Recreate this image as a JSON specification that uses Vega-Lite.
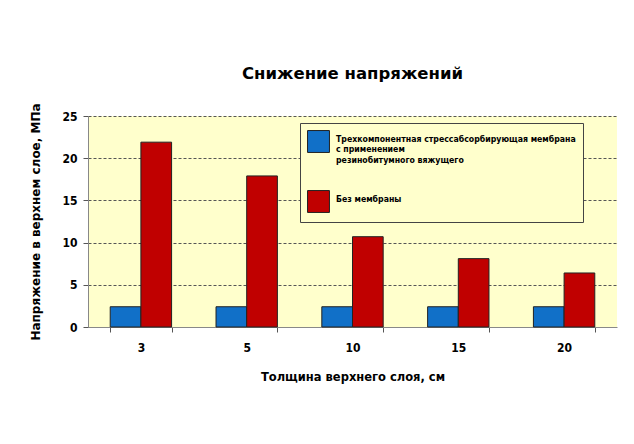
{
  "$schema": "https://vega.github.io/schema/vega-lite/v6.json",
  "width": 529,
  "height": 211,
  "autosize": {"type": "none"},
  "padding": {"left": 88, "top": 116, "right": 17, "bottom": 117},
  "background": "white",
  "title": {
    "text": "Снижение напряжений",
    "fontSize": 16.5,
    "font": "DejaVu Sans",
    "fontWeight": "bold",
    "color": "#000000",
    "offset": 20,
    "anchor": "middle"
  },
  "data": {
    "values": [
      {"t": "3", "s": "Трехкомпонентная стрессабсорбирующая мембрана с применением резинобитумного вяжущего", "v": 2.4},
      {"t": "3", "s": "Без мембраны", "v": 21.9},
      {"t": "5", "s": "Трехкомпонентная стрессабсорбирующая мембрана с применением резинобитумного вяжущего", "v": 2.4},
      {"t": "5", "s": "Без мембраны", "v": 17.9},
      {"t": "10", "s": "Трехкомпонентная стрессабсорбирующая мембрана с применением резинобитумного вяжущего", "v": 2.4},
      {"t": "10", "s": "Без мембраны", "v": 10.7},
      {"t": "15", "s": "Трехкомпонентная стрессабсорбирующая мембрана с применением резинобитумного вяжущего", "v": 2.4},
      {"t": "15", "s": "Без мембраны", "v": 8.1},
      {"t": "20", "s": "Трехкомпонентная стрессабсорбирующая мембрана с применением резинобитумного вяжущего", "v": 2.4},
      {"t": "20", "s": "Без мембраны", "v": 6.4}
    ]
  },
  "mark": {"type": "bar", "stroke": "#222222", "strokeWidth": 1},
  "encoding": {
    "x": {
      "field": "t",
      "type": "nominal",
      "sort": ["3", "5", "10", "15", "20"],
      "scale": {"paddingInner": 0.42, "paddingOuter": 0.21},
      "axis": {
        "title": "Толщина верхнего слоя, см",
        "labelAngle": 0,
        "tickBand": "extent",
        "tickSize": 5,
        "tickColor": "#555555",
        "domainColor": "#888888",
        "labelPadding": 10,
        "labelFont": "DejaVu Sans Condensed",
        "labelFontWeight": "bold",
        "labelFontSize": 12,
        "labelColor": "#000000",
        "titleFont": "DejaVu Sans",
        "titleFontWeight": "bold",
        "titleFontSize": 11.5,
        "titleColor": "#000000",
        "titlePadding": 18
      }
    },
    "xOffset": {
      "field": "s",
      "type": "nominal",
      "sort": ["Трехкомпонентная стрессабсорбирующая мембрана с применением резинобитумного вяжущего", "Без мембраны"],
      "scale": {"paddingInner": 0, "paddingOuter": 0}
    },
    "y": {
      "field": "v",
      "type": "quantitative",
      "scale": {"domain": [0, 25], "nice": false},
      "axis": {
        "title": "Напряжение в верхнем слое, МПа",
        "values": [0, 5, 10, 15, 20, 25],
        "tickSize": 5,
        "tickColor": "#555555",
        "domainColor": "#888888",
        "gridColor": "#555555",
        "gridDash": [3, 2],
        "gridWidth": 1,
        "labelPadding": 6,
        "labelFont": "DejaVu Sans Condensed",
        "labelFontWeight": "bold",
        "labelFontSize": 12,
        "labelColor": "#000000",
        "titleFont": "DejaVu Sans",
        "titleFontWeight": "bold",
        "titleFontSize": 12,
        "titleColor": "#000000",
        "titlePadding": 19
      }
    },
    "color": {
      "field": "s",
      "type": "nominal",
      "sort": ["Трехкомпонентная стрессабсорбирующая мембрана с применением резинобитумного вяжущего", "Без мембраны"],
      "scale": {"range": ["#1170c8", "#c00000"]},
      "legend": {
        "title": null,
        "orient": "none",
        "legendX": 212,
        "legendY": 7,
        "direction": "vertical",
        "fillColor": "#ffffcc",
        "strokeColor": "#444444",
        "padding": 7,
        "symbolType": "square",
        "symbolSize": 480,
        "symbolStrokeColor": "#222222",
        "symbolStrokeWidth": 1,
        "rowPadding": 23,
        "labelExpr": "datum.label == 'Без мембраны' ? datum.label : ['Трехкомпонентная стрессабсорбирующая мембрана', 'с применением', 'резинобитумного вяжущего']",
        "labelFont": "DejaVu Sans Condensed",
        "labelFontWeight": "bold",
        "labelFontSize": 8.7,
        "labelColor": "#000000",
        "labelLimit": 300,
        "labelOffset": 6,
        "labelBaseline": "alphabetic"
      }
    }
  },
  "config": {
    "view": {"fill": "#ffffcc", "stroke": null},
    "axis": {"domainWidth": 1}
  }
}
